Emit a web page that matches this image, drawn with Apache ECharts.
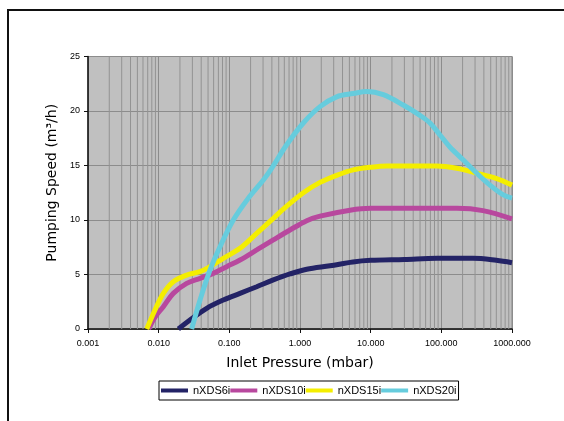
<!DOCTYPE html>
<html>
<head>
<meta charset="utf-8">
<script src="https://cdn.jsdelivr.net/npm/echarts@6/dist/echarts.min.js"></script>
<style>
html,body{margin:0;padding:0;background:#fff;}
#main{width:564px;height:421px;}
</style>
</head>
<body>
<div id="main"></div>
<script>
// Series names
var seriesNames = ['nXDS6i', 'nXDS10i', 'nXDS15i', 'nXDS20i'];
// [inlet pressure (mbar), pumping speed (m3/h)]
var nXDS6i = [[0.0190,0],[0.0277,0.83],[0.0478,1.9],[0.0822,2.66],[0.1415,3.27],[0.244,3.88],[0.419,4.5],[0.722,5.05],[1.245,5.48],[2.66,5.8],[5.6,6.15],[10,6.3],[30,6.38],[87,6.48],[280,6.48],[600,6.3],[1000,6.08]];
var nXDS10i = [[0.0072,0],[0.0089,1.1],[0.01164,2.05],[0.0161,3.27],[0.0249,4.19],[0.0385,4.65],[0.0593,5.1],[0.0918,5.72],[0.1415,6.33],[0.244,7.25],[0.419,8.17],[0.722,9.08],[1.245,9.94],[1.92,10.35],[5.1,10.9],[10,11.07],[166,11.07],[388,10.86],[1000,10.1]];
var nXDS15i = [[0.00678,0],[0.00887,1.74],[0.01164,3.27],[0.0161,4.34],[0.0249,4.95],[0.0385,5.26],[0.0532,5.72],[0.0822,6.48],[0.1415,7.4],[0.244,8.78],[0.419,10.15],[0.58,11.0],[1.114,12.5],[1.92,13.45],[3.3,14.1],[5.68,14.6],[9.78,14.83],[17,14.95],[86,14.95],[165,14.74],[316,14.3],[607,13.8],[1000,13.2]];
var nXDS20i = [[0.0293,0],[0.0385,2.66],[0.0532,5.4],[0.0738,7.55],[0.1138,10.0],[0.176,11.8],[0.303,13.67],[0.376,14.5],[0.648,16.9],[1.114,18.9],[1.92,20.4],[3.3,21.3],[5.68,21.6],[8.79,21.8],[15.1,21.5],[28.9,20.55],[49.9,19.6],[69.1,18.9],[95.7,17.8],[132,16.7],[205,15.5],[316,14.3],[488,13.2],[753,12.3],[1000,12.0]];
// Axis structure
var decades = [0.001, 0.01, 0.1, 1, 10, 100];
var minorSteps = [2, 3, 4, 5, 6, 7, 8, 9];
var yMin = 0, yMax = 25, yStep = 5;

var colors = ['#232366', '#b8489e', '#f4ee00', '#66ccdd'];
var dataSets = [nXDS6i, nXDS10i, nXDS15i, nXDS20i];

// minor vertical grid lines (log axis 2..9 per decade)
var minorGrid = [];
decades.forEach(function (d) {
  minorSteps.forEach(function (m) {
    var v = d * m;
    minorGrid.push([v, yMin], [v, yMax], [v, null]);
  });
});

var series = [{
  name: 'grid-minor',
  type: 'line',
  data: minorGrid,
  silent: true,
  showSymbol: false,
  connectNulls: false,
  z: 1,
  animation: false,
  lineStyle: { color: '#929292', width: 1 }
}];
seriesNames.forEach(function (n, i) {
  series.push({
    name: n,
    type: 'line',
    data: dataSets[i],
    showSymbol: false,
    smooth: 0.35,
    z: 3 + i,
    lineStyle: { color: colors[i], width: 5 },
    itemStyle: { color: colors[i] },
    animation: false
  });
});

var chart = echarts.init(document.getElementById('main'));
chart.setOption({
  animation: false,
  backgroundColor: '#ffffff',
  grid: {
    left: 88, right: 52, top: 56.5, bottom: 92,
    show: true, backgroundColor: '#c0c0c0', borderColor: '#888888', borderWidth: 1
  },
  legend: {
    data: seriesNames,
    left: 159, top: 381,
    orient: 'horizontal',
    icon: 'rect',
    itemWidth: 27, itemHeight: 4, itemGap: 0,
    itemStyle: { borderWidth: 0 },
    lineStyle: { width: 0 },
    padding: [4, 2, 4, 2],
    borderColor: '#000', borderWidth: 1, borderRadius: 0,
    backgroundColor: '#fff',
    textStyle: { fontFamily: 'Liberation Sans', fontSize: 11, color: '#000' }
  },
  xAxis: {
    type: 'log',
    logBase: 10,
    min: 0.001, max: 1000,
    splitNumber: 6,
    name: 'Inlet Pressure (mbar)',
    nameLocation: 'middle',
    nameGap: 27,
    nameTextStyle: { fontFamily: 'DejaVu Sans', fontSize: 14, color: '#000' },
    axisLine: { show: true, onZero: false, lineStyle: { color: '#111', width: 1.5 } },
    axisTick: { show: true, length: 4, lineStyle: { color: '#111' } },
    axisLabel: {
      margin: 10,
      fontFamily: 'Liberation Sans', fontSize: 9, color: '#000',
      formatter: function (v) { return Number(v).toFixed(3); }
    },
    splitLine: { show: true, lineStyle: { color: '#8c8c8c', width: 1 } }
  },
  yAxis: {
    type: 'value',
    min: yMin, max: yMax, interval: yStep,
    name: 'Pumping Speed (m³/h)',
    nameLocation: 'middle',
    nameGap: 29,
    nameTextStyle: { fontFamily: 'DejaVu Sans', fontSize: 14, color: '#000', padding: [0, 0, 0, 20] },
    axisLine: { show: true, lineStyle: { color: '#111', width: 1.5 } },
    axisTick: { show: true, length: 4, lineStyle: { color: '#111' } },
    axisLabel: { margin: 8, fontFamily: 'Liberation Sans', fontSize: 9, color: '#000' },
    splitLine: { show: true, lineStyle: { color: '#8c8c8c', width: 1 } }
  },
  graphic: [{
    type: 'rect',
    silent: true,
    z: 100,
    shape: { x: 8, y: 10, width: 700, height: 600 },
    style: { fill: null, stroke: '#111', lineWidth: 2 }
  }],
  series: series
});
</script>
</body>
</html>
